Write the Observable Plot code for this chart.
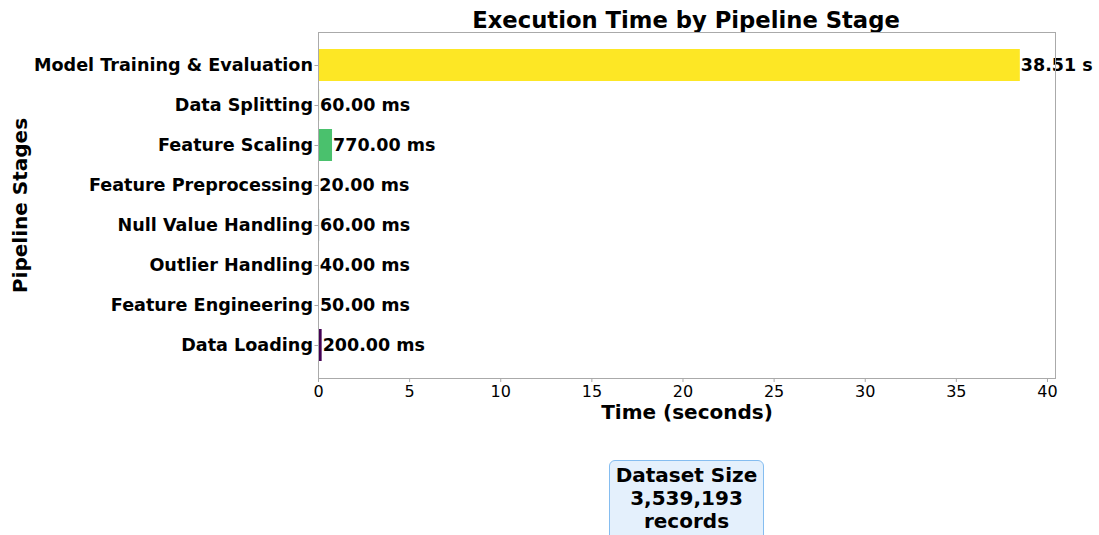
<!DOCTYPE html>
<html>
<head>
<meta charset="utf-8">
<script src="https://cdn.jsdelivr.net/npm/d3@7"></script>
<script src="https://cdn.jsdelivr.net/npm/@observablehq/plot@0.6"></script>
<style>
  html, body { margin: 0; padding: 0; background: #fff; width: 1099px; height: 535px; overflow: hidden; font-family: "DejaVu Sans", sans-serif; }
  #title { position: relative; height: 28px; }
  #title span { position: absolute; left: 686px; top: 20px; transform: translate(-50%, -50%); white-space: nowrap; font-weight: bold; font-size: 22.7px; color: #000; }
  #chart { position: relative; height: 400px; }
  #box { position: absolute; left: 609px; top: 460px; width: 155px; height: 90px; background: #e4f0fc; border: 1.5px solid #85bdf0; border-radius: 6px; text-align: center; font-weight: bold; font-size: 20px; line-height: 23px; padding-top: 3px; color: #000; box-sizing: border-box; }
</style>
</head>
<body>
<div id="title"><span>Execution Time by Pipeline Stage</span></div>
<div id="chart"></div>
<div id="box">Dataset Size<br>3,539,193<br>records</div>
<script>
// Data (pipeline order)
const stages = ["Data Loading", "Feature Engineering", "Outlier Handling", "Null Value Handling", "Feature Preprocessing", "Feature Scaling", "Data Splitting", "Model Training & Evaluation"];
const seconds = [0.20, 0.05, 0.04, 0.06, 0.02, 0.77, 0.06, 38.51];
const xTicks = [0, 5, 10, 15, 20, 25, 30, 35, 40];

const fmt = s => s >= 1 ? `${s.toFixed(2)} s` : `${(s * 1000).toFixed(2)} ms`;
const data = stages.map((stage, i) => ({stage, seconds: seconds[i], label: fmt(seconds[i])}));

const chart = Plot.plot({
  width: 1099,
  height: 400,
  marginLeft: 318,
  marginRight: 44,
  marginTop: 4,
  marginBottom: 50,
  style: {fontFamily: "DejaVu Sans, sans-serif", background: "transparent", color: "#000"},
  x: {domain: [0, 40.44], ticks: xTicks},
  y: {domain: stages.slice().reverse(), paddingInner: 0.2, paddingOuter: 0.378, align: 0.5},
  color: {type: "ordinal", scheme: "viridis", domain: stages},
  marks: [
    Plot.barX(data, {x: "seconds", y: "stage", fill: "stage"}),
    Plot.text(data, {x: "seconds", y: "stage", text: "label", textAnchor: "start", dx: 0.5, fontWeight: "bold", fontSize: 17.5, fill: "#000"}),
    Plot.frame({stroke: "#aaa", strokeWidth: 1}),
    Plot.axisX({ticks: xTicks, tickSize: 4, tickPadding: 3, fontSize: 16, label: null, stroke: "#aaa", tickFormat: d => String(d)}),
    Plot.axisY({tickSize: 3.5, tickPadding: 2, fontSize: 17.6, fontWeight: "bold", label: null, stroke: "#aaa"}),
    Plot.text(["Time (seconds)"], {frameAnchor: "bottom", dy: 34, lineAnchor: "middle", fontWeight: "bold", fontSize: 20, fill: "#000"}),
    Plot.text(["Pipeline Stages"], {frameAnchor: "left", dx: -298, dy: 0, rotate: -90, lineAnchor: "middle", textAnchor: "middle", fontWeight: "bold", fontSize: 20, fill: "#000"})
  ]
});
document.getElementById("chart").appendChild(chart);
</script>
</body>
</html>
